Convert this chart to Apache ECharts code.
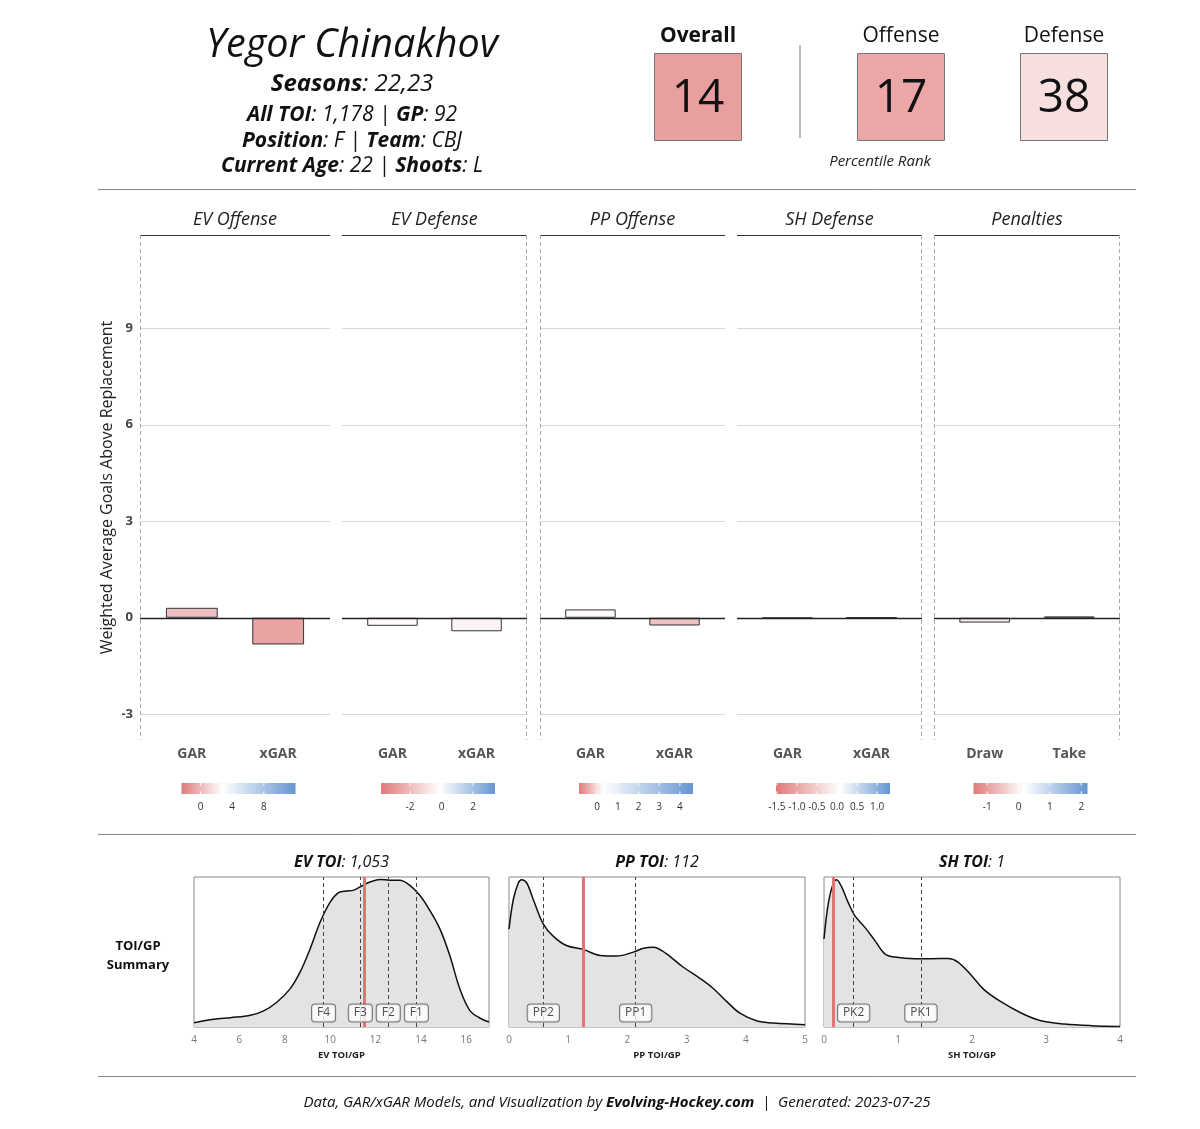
<!DOCTYPE html>
<html>
<head>
<meta charset="utf-8">
<title>Yegor Chinakhov</title>
<script src="https://cdn.jsdelivr.net/npm/echarts@6.0.0/dist/echarts.min.js"></script>
<style>
html, body { margin: 0; padding: 0; background: #fff; }
#chart { width: 1200px; height: 1129px; }
</style>
</head>
<body>
<div id="chart"></div>
<script>
// player card
const playerName = 'Yegor Chinakhov'
const seasons = '22,23'
const allToi = '1,178'
const gamesPlayed = '92'
const position = 'F'
const team = 'CBJ'
const currentAge = '22'
const shoots = 'L'
const generated = '2023-07-25'

// percentile ranks
const rankLabels = ['Overall', 'Offense', 'Defense']
const rankValues = [14, 17, 38]

// GAR panels
const panelTitles = ['EV Offense', 'EV Defense', 'PP Offense', 'SH Defense', 'Penalties']
const barLabels = [['GAR', 'xGAR'], ['GAR', 'xGAR'], ['GAR', 'xGAR'], ['GAR', 'xGAR'], ['Draw', 'Take']]
const evOffense = [0.31, -0.83]
const evDefense = [-0.25, -0.42]
const ppOffense = [0.26, -0.24]
const shDefense = [-0.01, 0.01]
const penalties = [-0.15, 0.04]
const yTicks = [-3, 0, 3, 6, 9]
const yTitle = 'Weighted Average Goals Above Replacement'

// colour legends: [low, white point, high] and tick labels
const scaleRanges = [[-2.4, 2.75, 12], [-3.85, -0.1, 3.4], [-0.87, 0.3, 4.63], [-1.52, 0.08, 1.32], [-1.44, 0.16, 2.2]]
const scaleTicks = [['0', '4', '8'], ['-2', '0', '2'], ['0', '1', '2', '3', '4'], ['-1.5', '-1.0', '-0.5', '0.0', '0.5', '1.0'], ['-1', '0', '1', '2']]

// TOI per game densities
const evDensity = [[4, 0.029], [4.88, 0.051], [5.61, 0.062], [6.49, 0.078], [7.07, 0.107], [7.66, 0.167], [8.24, 0.256], [8.68, 0.367], [9.12, 0.522], [9.56, 0.70], [10.0, 0.833], [10.37, 0.896], [10.73, 0.907], [11.02, 0.911], [11.39, 0.94], [11.76, 0.967], [12.2, 0.984], [12.63, 0.978], [13.07, 0.978], [13.51, 0.944], [13.95, 0.878], [14.39, 0.778], [14.83, 0.656], [15.27, 0.478], [15.71, 0.256], [16.15, 0.111], [16.59, 0.06], [17.0, 0.033]]
const ppDensity = [[0, 0.653], [0.073, 0.85], [0.158, 0.96], [0.214, 0.982], [0.3, 0.96], [0.41, 0.85], [0.58, 0.686], [0.75, 0.604], [0.97, 0.543], [1.26, 0.516], [1.54, 0.477], [1.82, 0.473], [2.1, 0.499], [2.27, 0.525], [2.44, 0.532], [2.66, 0.488], [2.94, 0.4], [3.23, 0.323], [3.45, 0.257], [3.68, 0.169], [3.9, 0.092], [4.18, 0.042], [4.47, 0.026], [5.0, 0.015]]
const shDensity = [[0, 0.587], [0.058, 0.824], [0.126, 0.96], [0.171, 0.982], [0.238, 0.934], [0.328, 0.829], [0.418, 0.741], [0.553, 0.664], [0.688, 0.576], [0.822, 0.488], [0.957, 0.466], [1.227, 0.455], [1.452, 0.455], [1.676, 0.457], [1.81, 0.433], [1.99, 0.345], [2.17, 0.246], [2.39, 0.169], [2.67, 0.092], [2.93, 0.042], [3.25, 0.02], [3.61, 0.009], [4.0, 0.004]]

const evToi = '1,053', ppToi = '112', shToi = '1'
const evLineNames = ['F4', 'F3', 'F2', 'F1'], evLineX = [9.71, 11.33, 12.56, 13.8], evPlayer = 11.51
const ppLineNames = ['PP2', 'PP1'], ppLineX = [0.58, 2.14], ppPlayer = 1.26
const shLineNames = ['PK2', 'PK1'], shLineX = [0.4, 1.31], shPlayer = 0.12

// ---------- layout ----------
const FONT = 'Open Sans'
const RED = [224, 122, 122], WHITE = [255, 255, 255], BLUE = [102, 150, 210]
const panelLeft = [140, 342, 540, 737, 934]
const panelWidth = [190, 185, 185, 185, 186]
const panelTop = 235, panelBottom = 740
const panelGroups = [[0, 1], [2, 3], [4, 4]]
const garValues = [evOffense, evDefense, ppOffense, shDefense, penalties]

const density = [
  { title: 'EV TOI', total: evToi, axis: 'EV TOI/GP', data: evDensity, min: 4, max: 17, interval: 2, left: 194, width: 295, names: evLineNames, xs: evLineX, player: evPlayer },
  { title: 'PP TOI', total: ppToi, axis: 'PP TOI/GP', data: ppDensity, min: 0, max: 5, interval: 1, left: 509, width: 296, names: ppLineNames, xs: ppLineX, player: ppPlayer },
  { title: 'SH TOI', total: shToi, axis: 'SH TOI/GP', data: shDensity, min: 0, max: 4, interval: 1, left: 824, width: 296, names: shLineNames, xs: shLineX, player: shPlayer },
]
const densTop = 877, densHeight = 150

function mix(a, b, t) {
  t = Math.max(0, Math.min(1, t))
  return 'rgb(' + a.map((c, k) => Math.round(c + (b[k] - c) * t)).join(',') + ')'
}
function scaleColor(v, r) {
  const lo = r[0], mid = r[1], hi = r[2]
  return v <= mid ? mix(RED, WHITE, (v - lo) / (mid - lo)) : mix(WHITE, BLUE, (v - mid) / (hi - mid))
}

// ---------- graphic elements ----------
const graphics = []
function txt(x, y, text, style) {
  graphics.push({ type: 'text', x: x, y: y + 2, silent: true, z: 10,
    style: Object.assign({ text: text, fontFamily: FONT, fill: '#111', align: 'center', verticalAlign: 'middle' }, style) })
}
function line(x1, y1, x2, y2, stroke, lineWidth, lineDash) {
  graphics.push({ type: 'line', silent: true, z: 10, shape: { x1: x1, y1: y1, x2: x2, y2: y2 },
    style: { stroke: stroke, lineWidth: lineWidth, lineDash: lineDash || null } })
}
function richStyle(size) {
  return { rich: {
    b: { fontSize: size, fontWeight: 'bold', fontStyle: 'italic', fontFamily: FONT, fill: '#111' },
    n: { fontSize: size, fontStyle: 'italic', fontFamily: FONT, fill: '#111' },
  } }
}

// header
txt(352, 44, playerName, { fontSize: 39.5, fontStyle: 'italic' })
txt(352, 82, '{b|Seasons}{n|: ' + seasons + '}', richStyle(24))
txt(352, 113, '{b|All TOI}{n|: ' + allToi + ' | }{b|GP}{n|: ' + gamesPlayed + '}', richStyle(21))
txt(352, 139, '{b|Position}{n|: ' + position + ' | }{b|Team}{n|: ' + team + '}', richStyle(21))
txt(352, 164, '{b|Current Age}{n|: ' + currentAge + ' | }{b|Shoots}{n|: ' + shoots + '}', richStyle(21))

const rankCenters = [698, 901, 1064]
rankLabels.forEach((lab, i) => {
  const cx = rankCenters[i]
  graphics.push({ type: 'rect', silent: true, z: 9, shape: { x: cx - 43.5, y: 53.5, width: 87, height: 87 },
    style: { fill: scaleColor(rankValues[i], [0, 50, 100]), stroke: '#777', lineWidth: 1 } })
  txt(cx, 34, lab, { fontSize: 21, fontWeight: i === 0 ? 'bold' : 'normal' })
  txt(cx, 97, String(rankValues[i]), { fontSize: 46 })
})
line(800, 45, 800, 138, '#bbb', 2)
txt(880, 160, 'Percentile Rank', { fontSize: 15, fontStyle: 'italic', fill: '#222' })

// rules
line(98, 189.5, 1136, 189.5, '#888', 1)
line(98, 834.5, 1136, 834.5, '#888', 1)
line(98, 1076.5, 1136, 1076.5, '#888', 1)

// strips, group borders, colour legends
panelTitles.forEach((t, i) => {
  const l = panelLeft[i], w = panelWidth[i]
  txt(l + w / 2, 218, t, { fontSize: 18, fontStyle: 'italic', fill: '#222' })
  line(l, 235.5, l + w, 235.5, '#333', 1)

  const r = scaleRanges[i]
  const bx = l + w / 2 + 3.5 - 57, bw = 114
  const midFrac = (r[1] - r[0]) / (r[2] - r[0])
  graphics.push({ type: 'rect', silent: true, z: 9, shape: { x: bx, y: 783, width: bw, height: 11 },
    style: { fill: { type: 'linear', x: 0, y: 0, x2: 1, y2: 0, colorStops: [
      { offset: 0, color: mix(RED, WHITE, 0) }, { offset: midFrac, color: '#fff' }, { offset: 1, color: mix(WHITE, BLUE, 1) }] } } })
  scaleTicks[i].forEach(s => {
    const px = bx + (parseFloat(s) - r[0]) / (r[2] - r[0]) * bw
    line(px, 783, px, 785.5, '#fff', 1)
    line(px, 791.5, px, 794, '#fff', 1)
    txt(px, 805, s, { fontSize: 10, fill: '#333' })
  })
})
panelGroups.forEach(g => {
  const x1 = panelLeft[g[0]] + 0.5, x2 = panelLeft[g[1]] + panelWidth[g[1]] - 0.5
  line(x1, panelTop, x1, panelBottom, '#aaa', 1, [4, 3])
  line(x2, panelTop, x2, panelBottom, '#aaa', 1, [4, 3])
})

// density titles
txt(138, 944, 'TOI/GP', { fontSize: 13, fontWeight: 'bold' })
txt(138, 963, 'Summary', { fontSize: 13, fontWeight: 'bold' })
density.forEach(d => {
  txt(d.left + d.width / 2, 860, '{b|' + d.title + '}{n|: ' + d.total + '}', richStyle(16))
})

// footer
txt(617, 1101, '{n|Data, GAR/xGAR Models, and Visualization by }{b|Evolving-Hockey.com}{n|  |  Generated: ' + generated + '}', richStyle(15))

// ---------- chart option ----------
const grids = [], xAxes = [], yAxes = [], series = []

garValues.forEach((vals, i) => {
  const w = panelWidth[i]
  grids.push({ left: panelLeft[i], top: panelTop, width: w, height: panelBottom - panelTop })
  xAxes.push({ gridIndex: i, type: 'value', min: 0.4, max: 2.6,
    axisLine: { show: false }, axisTick: { show: false }, splitLine: { show: false },
    axisLabel: { customValues: [1, 2], formatter: v => barLabels[i][Math.round(v) - 1],
      color: '#555', fontWeight: 'bold', fontSize: 14, margin: 7, fontFamily: FONT } })
  yAxes.push({ gridIndex: i, type: 'value', min: -3.8, max: 11.9,
    axisLine: { show: false }, axisTick: { show: false }, splitLine: { show: false },
    axisLabel: i === 0 ? { customValues: yTicks, color: '#444', fontWeight: 'bold', fontSize: 13, margin: 7, fontFamily: FONT } : { show: false },
    name: i === 0 ? yTitle : '', nameLocation: 'middle', nameGap: 25,
    nameTextStyle: { fontSize: 16, color: '#222', fontFamily: FONT } })
  series.push({
    type: 'bar', xAxisIndex: i, yAxisIndex: i, barWidth: w * 0.6 / 2.2,
    data: vals.map((v, k) => ({ value: [k + 1, v],
      itemStyle: { color: scaleColor(v, scaleRanges[i]), borderColor: '#333', borderWidth: 1 } })),
    markLine: { silent: true, symbol: ['none', 'none'], label: { show: false },
      data: yTicks.map(t => ({ yAxis: t,
        lineStyle: { color: t === 0 ? '#222' : '#d8d8d8', width: t === 0 ? 1.3 : 1, type: 'solid' } })) },
  })
})

density.forEach((d, j) => {
  const gi = 5 + j
  grids.push({ left: d.left, top: densTop, width: d.width, height: densHeight,
    show: true, borderColor: '#888', borderWidth: 1, backgroundColor: '#fff' })
  xAxes.push({ gridIndex: gi, type: 'value', min: d.min, max: d.max, interval: d.interval,
    axisLine: { show: false }, axisTick: { show: false }, splitLine: { show: false },
    axisLabel: { color: '#777', fontSize: 10, margin: 8, showMaxLabel: j !== 0, fontFamily: FONT },
    name: d.axis, nameLocation: 'middle', nameGap: 23,
    nameTextStyle: { fontSize: 9.5, fontWeight: 'bold', color: '#222', fontFamily: FONT } })
  yAxes.push({ gridIndex: gi, type: 'value', min: 0, max: 1, show: false })
  series.push({
    type: 'line', xAxisIndex: gi, yAxisIndex: gi, data: d.data, smooth: 0.35, symbol: 'none',
    lineStyle: { color: '#111', width: 1.5 }, areaStyle: { color: '#e3e3e3', opacity: 1 },
    markLine: { silent: true, symbol: ['none', 'none'], label: { show: false },
      lineStyle: { color: '#444', width: 1, type: [4, 3] },
      data: d.xs.map(x => ({ xAxis: x })) },
  })
  series.push({
    type: 'scatter', xAxisIndex: gi, yAxisIndex: gi, symbolSize: 1, zlevel: 1, z: 4,
    itemStyle: { color: 'rgba(0,0,0,0)' },
    data: d.xs.map((x, k) => ({ value: [x, 0.093], name: d.names[k] })),
    label: { show: true, position: 'inside', formatter: p => p.name, fontSize: 12, color: '#222',
      fontFamily: FONT, backgroundColor: '#fff', borderColor: '#555', borderWidth: 1, borderRadius: 3, padding: [3, 5, 2, 5] },
  })
  series.push({
    type: 'scatter', xAxisIndex: gi, yAxisIndex: gi, symbolSize: 0, zlevel: 1, z: 6,
    data: [[d.player, 0]],
    markLine: { silent: true, symbol: ['none', 'none'], label: { show: false },
      lineStyle: { color: '#e57373', width: 3, type: 'solid' },
      data: [{ xAxis: d.player }] },
  })
})

const chart = echarts.init(document.getElementById('chart'))
chart.setOption({
  animation: false,
  backgroundColor: '#fff',
  textStyle: { fontFamily: FONT },
  grid: grids,
  xAxis: xAxes,
  yAxis: yAxes,
  series: series,
  graphic: graphics,
})
</script>
</body>
</html>
